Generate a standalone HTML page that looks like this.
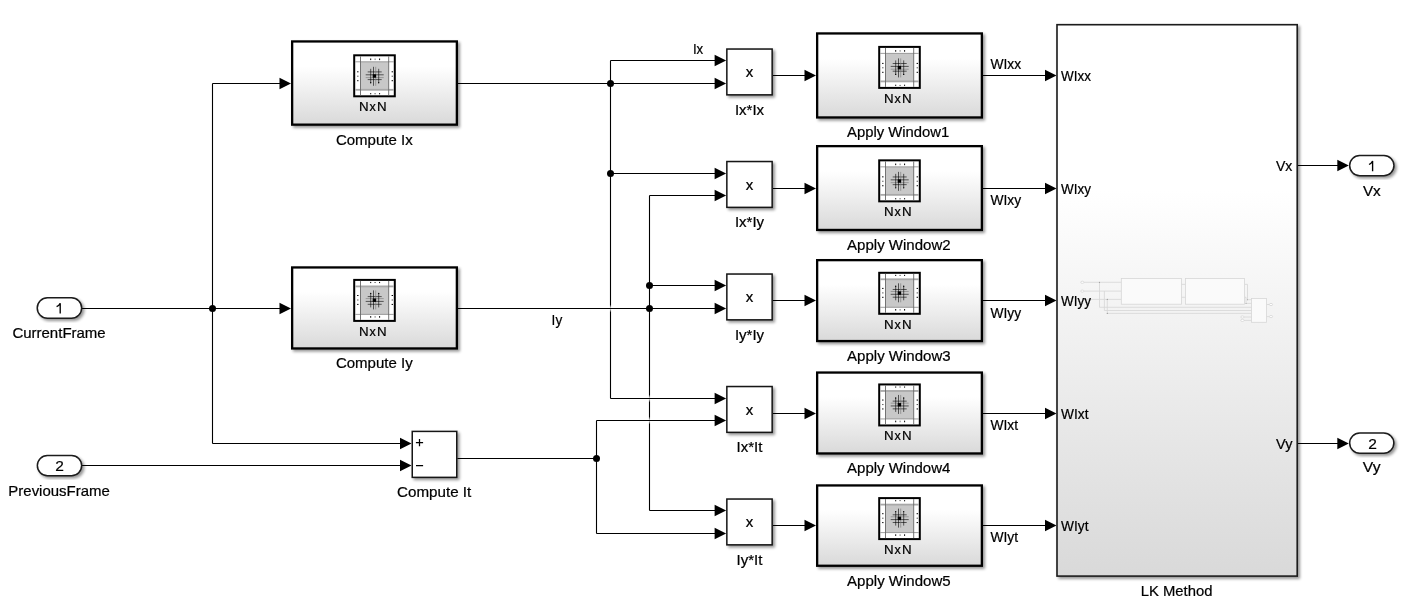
<!DOCTYPE html>
<html><head><meta charset="utf-8"><style>
html,body{margin:0;padding:0;background:#fff;width:1425px;height:616px;overflow:hidden}
svg{display:block;font-family:"Liberation Sans",sans-serif;will-change:transform}
</style></head><body>
<svg width="1425" height="616" viewBox="0 0 1425 616">
<defs>
<linearGradient id="grad" x1="0" y1="0" x2="0" y2="1"><stop offset="0" stop-color="#ffffff"/><stop offset="0.3" stop-color="#ffffff"/><stop offset="1" stop-color="#d9d9d9"/></linearGradient>
<filter id="sh" x="-10%" y="-10%" width="130%" height="130%"><feGaussianBlur in="SourceAlpha" stdDeviation="1.6"/><feOffset dx="2" dy="2.2" result="b"/><feComponentTransfer><feFuncA type="linear" slope="0.42"/></feComponentTransfer><feMerge><feMergeNode/><feMergeNode in="SourceGraphic"/></feMerge></filter>
<g id="nxn">
<rect x="1" y="1" width="40.6" height="41" fill="#fff" stroke="#000" stroke-width="2"/>
<rect x="7.3" y="7.5" width="28.2" height="28" fill="#c8c8c8"/>
<rect x="2" y="34.6" width="38.6" height="1.8" fill="#a8a8a8"/>
<line x1="2" y1="7.5" x2="40.6" y2="7.5" stroke="#888" stroke-width="0.8"/>
<line x1="7.3" y1="2" x2="7.3" y2="41" stroke="#666" stroke-width="0.9"/>
<line x1="35.5" y1="2" x2="35.5" y2="41" stroke="#666" stroke-width="0.9"/>
<g fill="#000">
<rect x="17" y="4.2" width="1" height="1.6"/><rect x="21.4" y="4.2" width="1" height="1.6" fill="#777"/><rect x="25.9" y="4.2" width="1" height="1.6"/>
<rect x="17" y="38.8" width="1" height="1.2"/><rect x="21.2" y="39" width="1.4" height="0.9" fill="#555"/><rect x="25.9" y="38.8" width="1" height="1.2"/>
<rect x="3.9" y="17" width="1.4" height="1"/><rect x="3.9" y="21.4" width="1.4" height="1" fill="#555"/><rect x="3.9" y="25.9" width="1.4" height="1"/>
<rect x="38.4" y="17" width="1.4" height="1"/><rect x="38.4" y="21.4" width="1.4" height="1" fill="#555"/><rect x="38.4" y="25.9" width="1.4" height="1"/>
</g>
<g stroke="#000" stroke-width="0.6">
<line x1="12.5" y1="20.5" x2="30.5" y2="20.5"/><line x1="12.5" y1="23.3" x2="30.5" y2="23.3" stroke="#777"/>
<line x1="14.5" y1="17.6" x2="28.5" y2="17.6"/><line x1="14.5" y1="25.3" x2="28.5" y2="25.3"/>
<line x1="20.3" y1="12.5" x2="20.3" y2="31.5"/><line x1="22.5" y1="12.5" x2="22.5" y2="31.5" stroke="#777"/>
<line x1="17.5" y1="14.5" x2="17.5" y2="28.5"/><line x1="25.5" y1="14.5" x2="25.5" y2="28.5"/>
</g>
<rect x="19.5" y="20" width="3.4" height="3.4" fill="#000"/>
<circle cx="17.5" cy="28.5" r="0.7" fill="#000"/><circle cx="25.5" cy="28.5" r="0.7" fill="#000"/>
</g>
<linearGradient id="gapg" x1="0" y1="0" x2="0" y2="1"><stop offset="0" stop-color="#fff" stop-opacity="0"/><stop offset="0.5" stop-color="#fff" stop-opacity="1"/><stop offset="1" stop-color="#fff" stop-opacity="0"/></linearGradient>
</defs>
<path d="M82.00,308.50 L212.50,308.50" fill="none" stroke="#000" stroke-width="1.1"/>
<path d="M212.50,308.50 L282.00,308.50" fill="none" stroke="#000" stroke-width="1.1"/>
<path d="M279.50,302.75 L291.00,308.50 L279.50,314.25 Z" fill="#000"/>
<path d="M212.50,83.50 L212.50,443.50" fill="none" stroke="#000" stroke-width="1.1"/>
<path d="M212.50,83.50 L282.00,83.50" fill="none" stroke="#000" stroke-width="1.1"/>
<path d="M279.50,77.75 L291.00,83.50 L279.50,89.25 Z" fill="#000"/>
<path d="M212.50,443.50 L402.50,443.50" fill="none" stroke="#000" stroke-width="1.1"/>
<path d="M400.00,437.75 L411.50,443.50 L400.00,449.25 Z" fill="#000"/>
<path d="M82.00,465.50 L402.50,465.50" fill="none" stroke="#000" stroke-width="1.1"/>
<path d="M400.00,459.75 L411.50,465.50 L400.00,471.25 Z" fill="#000"/>
<circle cx="212.5" cy="308.5" r="3.5" fill="#000"/>
<path d="M457.30,458.50 L596.50,458.50" fill="none" stroke="#000" stroke-width="1.1"/>
<path d="M596.50,420.50 L596.50,533.50" fill="none" stroke="#000" stroke-width="1.1"/>
<path d="M610.50,60.50 L610.50,398.50" fill="none" stroke="#000" stroke-width="1.1"/>
<path d="M649.50,195.50 L649.50,510.50" fill="none" stroke="#000" stroke-width="1.1"/>
<rect x="609.0" y="304.5" width="3" height="8" fill="url(#gapg)"/>
<rect x="648.0" y="394.5" width="3" height="8" fill="url(#gapg)"/>
<rect x="648.0" y="416.5" width="3" height="8" fill="url(#gapg)"/>
<path d="M458.00,83.50 L610.50,83.50" fill="none" stroke="#000" stroke-width="1.1"/>
<path d="M458.00,308.50 L649.50,308.50" fill="none" stroke="#000" stroke-width="1.1"/>
<path d="M610.50,60.50 L717.10,60.50" fill="none" stroke="#000" stroke-width="1.1"/>
<path d="M714.60,54.75 L726.10,60.50 L714.60,66.25 Z" fill="#000"/>
<path d="M610.50,83.50 L717.10,83.50" fill="none" stroke="#000" stroke-width="1.1"/>
<path d="M714.60,77.75 L726.10,83.50 L714.60,89.25 Z" fill="#000"/>
<path d="M610.50,173.50 L717.10,173.50" fill="none" stroke="#000" stroke-width="1.1"/>
<path d="M714.60,167.75 L726.10,173.50 L714.60,179.25 Z" fill="#000"/>
<path d="M649.50,195.50 L717.10,195.50" fill="none" stroke="#000" stroke-width="1.1"/>
<path d="M714.60,189.75 L726.10,195.50 L714.60,201.25 Z" fill="#000"/>
<path d="M649.50,285.50 L717.10,285.50" fill="none" stroke="#000" stroke-width="1.1"/>
<path d="M714.60,279.75 L726.10,285.50 L714.60,291.25 Z" fill="#000"/>
<path d="M649.50,308.50 L717.10,308.50" fill="none" stroke="#000" stroke-width="1.1"/>
<path d="M714.60,302.75 L726.10,308.50 L714.60,314.25 Z" fill="#000"/>
<path d="M610.50,398.50 L717.10,398.50" fill="none" stroke="#000" stroke-width="1.1"/>
<path d="M714.60,392.75 L726.10,398.50 L714.60,404.25 Z" fill="#000"/>
<path d="M596.50,420.50 L717.10,420.50" fill="none" stroke="#000" stroke-width="1.1"/>
<path d="M714.60,414.75 L726.10,420.50 L714.60,426.25 Z" fill="#000"/>
<path d="M649.50,510.50 L717.10,510.50" fill="none" stroke="#000" stroke-width="1.1"/>
<path d="M714.60,504.75 L726.10,510.50 L714.60,516.25 Z" fill="#000"/>
<path d="M596.50,533.50 L717.10,533.50" fill="none" stroke="#000" stroke-width="1.1"/>
<path d="M714.60,527.75 L726.10,533.50 L714.60,539.25 Z" fill="#000"/>
<circle cx="596.5" cy="458.5" r="3.5" fill="#000"/>
<circle cx="610.5" cy="83.5" r="3.5" fill="#000"/>
<circle cx="610.5" cy="173.5" r="3.5" fill="#000"/>
<circle cx="649.5" cy="308.5" r="3.5" fill="#000"/>
<circle cx="649.5" cy="285.5" r="3.5" fill="#000"/>
<path d="M772.90,75.50 L807.00,75.50" fill="none" stroke="#000" stroke-width="1.1"/>
<path d="M804.50,69.75 L816.00,75.50 L804.50,81.25 Z" fill="#000"/>
<path d="M983.00,75.50 L1047.50,75.50" fill="none" stroke="#000" stroke-width="1.1"/>
<path d="M1045.00,69.75 L1056.50,75.50 L1045.00,81.25 Z" fill="#000"/>
<path d="M772.90,188.50 L807.00,188.50" fill="none" stroke="#000" stroke-width="1.1"/>
<path d="M804.50,182.75 L816.00,188.50 L804.50,194.25 Z" fill="#000"/>
<path d="M983.00,188.50 L1047.50,188.50" fill="none" stroke="#000" stroke-width="1.1"/>
<path d="M1045.00,182.75 L1056.50,188.50 L1045.00,194.25 Z" fill="#000"/>
<path d="M772.90,300.50 L807.00,300.50" fill="none" stroke="#000" stroke-width="1.1"/>
<path d="M804.50,294.75 L816.00,300.50 L804.50,306.25 Z" fill="#000"/>
<path d="M983.00,300.50 L1047.50,300.50" fill="none" stroke="#000" stroke-width="1.1"/>
<path d="M1045.00,294.75 L1056.50,300.50 L1045.00,306.25 Z" fill="#000"/>
<path d="M772.90,413.50 L807.00,413.50" fill="none" stroke="#000" stroke-width="1.1"/>
<path d="M804.50,407.75 L816.00,413.50 L804.50,419.25 Z" fill="#000"/>
<path d="M983.00,413.50 L1047.50,413.50" fill="none" stroke="#000" stroke-width="1.1"/>
<path d="M1045.00,407.75 L1056.50,413.50 L1045.00,419.25 Z" fill="#000"/>
<path d="M772.90,525.50 L807.00,525.50" fill="none" stroke="#000" stroke-width="1.1"/>
<path d="M804.50,519.75 L816.00,525.50 L804.50,531.25 Z" fill="#000"/>
<path d="M983.00,525.50 L1047.50,525.50" fill="none" stroke="#000" stroke-width="1.1"/>
<path d="M1045.00,519.75 L1056.50,525.50 L1045.00,531.25 Z" fill="#000"/>
<path d="M1298.00,165.50 L1339.80,165.50" fill="none" stroke="#000" stroke-width="1.1"/>
<path d="M1337.30,159.75 L1348.80,165.50 L1337.30,171.25 Z" fill="#000"/>
<path d="M1298.00,443.50 L1339.80,443.50" fill="none" stroke="#000" stroke-width="1.1"/>
<path d="M1337.30,437.75 L1348.80,443.50 L1337.30,449.25 Z" fill="#000"/>
<rect x="292.15" y="41.45" width="164.70" height="83.20" fill="url(#grad)" stroke="#000" stroke-width="2.3" filter="url(#sh)"/>
<use href="#nxn" transform="translate(353.20,54.30)"/>
<text x="363.70" y="111.10" text-anchor="middle" font-size="13.3" fill="#000" stroke="#000" stroke-width="0.22">N</text>
<text x="372.55" y="111.10" text-anchor="middle" font-size="12.5" fill="#000" stroke="#000" stroke-width="0.22">x</text>
<text x="381.70" y="111.10" text-anchor="middle" font-size="13.3" fill="#000" stroke="#000" stroke-width="0.22">N</text>
<text x="335.90" y="145.00" text-anchor="start" font-size="15" fill="#000" stroke="#000" stroke-width="0.22" textLength="76.79999999999997" lengthAdjust="spacingAndGlyphs">Compute Ix</text>
<rect x="292.15" y="267.45" width="164.70" height="81.00" fill="url(#grad)" stroke="#000" stroke-width="2.3" filter="url(#sh)"/>
<use href="#nxn" transform="translate(353.20,321.90) scale(1,-1)"/>
<text x="363.70" y="335.70" text-anchor="middle" font-size="13.3" fill="#000" stroke="#000" stroke-width="0.22">N</text>
<text x="372.55" y="335.70" text-anchor="middle" font-size="12.5" fill="#000" stroke="#000" stroke-width="0.22">x</text>
<text x="381.70" y="335.70" text-anchor="middle" font-size="13.3" fill="#000" stroke="#000" stroke-width="0.22">N</text>
<text x="335.90" y="367.80" text-anchor="start" font-size="15" fill="#000" stroke="#000" stroke-width="0.22" textLength="76.79999999999997" lengthAdjust="spacingAndGlyphs">Compute Iy</text>
<rect x="412.25" y="431.4" width="44.5" height="45.95" fill="#fff" stroke="#151515" stroke-width="1.5" filter="url(#sh)"/>
<path d="M415.9,442.6 H423.1 M419.5,439 V446.2 M416,465.5 H423.1" stroke="#000" stroke-width="1.25" fill="none"/>
<text x="397.10" y="497.00" text-anchor="start" font-size="15" fill="#000" stroke="#000" stroke-width="0.22" textLength="74.2" lengthAdjust="spacingAndGlyphs">Compute It</text>
<rect x="726.85" y="49.05" width="45.30" height="45.80" fill="#fff" stroke="#151515" stroke-width="1.5" filter="url(#sh)"/>
<text x="749.50" y="77.00" text-anchor="middle" font-size="15" fill="#000" stroke="#000" stroke-width="0.22">x</text>
<text x="749.50" y="114.90" text-anchor="middle" font-size="15" fill="#000" stroke="#000" stroke-width="0.22">Ix*Ix</text>
<rect x="817.15" y="33.45" width="164.70" height="84.00" fill="url(#grad)" stroke="#000" stroke-width="2.3" filter="url(#sh)"/>
<use href="#nxn" transform="translate(878.20,45.90)"/>
<text x="888.70" y="102.70" text-anchor="middle" font-size="13.3" fill="#000" stroke="#000" stroke-width="0.22">N</text>
<text x="897.55" y="102.70" text-anchor="middle" font-size="12.5" fill="#000" stroke="#000" stroke-width="0.22">x</text>
<text x="906.70" y="102.70" text-anchor="middle" font-size="13.3" fill="#000" stroke="#000" stroke-width="0.22">N</text>
<text x="847.10" y="136.90" text-anchor="start" font-size="15" fill="#000" stroke="#000" stroke-width="0.22" textLength="102.2" lengthAdjust="spacingAndGlyphs">Apply Window1</text>
<rect x="726.85" y="161.55" width="45.30" height="45.80" fill="#fff" stroke="#151515" stroke-width="1.5" filter="url(#sh)"/>
<text x="749.50" y="189.50" text-anchor="middle" font-size="15" fill="#000" stroke="#000" stroke-width="0.22">x</text>
<text x="749.50" y="227.40" text-anchor="middle" font-size="15" fill="#000" stroke="#000" stroke-width="0.22">Ix*Iy</text>
<rect x="817.15" y="146.15" width="164.70" height="83.80" fill="url(#grad)" stroke="#000" stroke-width="2.3" filter="url(#sh)"/>
<use href="#nxn" transform="translate(878.20,159.35)"/>
<text x="888.70" y="216.15" text-anchor="middle" font-size="13.3" fill="#000" stroke="#000" stroke-width="0.22">N</text>
<text x="897.55" y="216.15" text-anchor="middle" font-size="12.5" fill="#000" stroke="#000" stroke-width="0.22">x</text>
<text x="906.70" y="216.15" text-anchor="middle" font-size="13.3" fill="#000" stroke="#000" stroke-width="0.22">N</text>
<text x="847.10" y="249.90" text-anchor="start" font-size="15" fill="#000" stroke="#000" stroke-width="0.22" textLength="103.49999999999996" lengthAdjust="spacingAndGlyphs">Apply Window2</text>
<rect x="726.85" y="274.05" width="45.30" height="45.80" fill="#fff" stroke="#151515" stroke-width="1.5" filter="url(#sh)"/>
<text x="749.50" y="302.00" text-anchor="middle" font-size="15" fill="#000" stroke="#000" stroke-width="0.22">x</text>
<text x="749.50" y="339.90" text-anchor="middle" font-size="15" fill="#000" stroke="#000" stroke-width="0.22">Iy*Iy</text>
<rect x="817.15" y="260.15" width="164.70" height="80.90" fill="url(#grad)" stroke="#000" stroke-width="2.3" filter="url(#sh)"/>
<use href="#nxn" transform="translate(878.20,314.80) scale(1,-1)"/>
<text x="888.70" y="328.60" text-anchor="middle" font-size="13.3" fill="#000" stroke="#000" stroke-width="0.22">N</text>
<text x="897.55" y="328.60" text-anchor="middle" font-size="12.5" fill="#000" stroke="#000" stroke-width="0.22">x</text>
<text x="906.70" y="328.60" text-anchor="middle" font-size="13.3" fill="#000" stroke="#000" stroke-width="0.22">N</text>
<text x="847.10" y="360.90" text-anchor="start" font-size="15" fill="#000" stroke="#000" stroke-width="0.22" textLength="103.49999999999996" lengthAdjust="spacingAndGlyphs">Apply Window3</text>
<rect x="726.85" y="386.55" width="45.30" height="45.80" fill="#fff" stroke="#151515" stroke-width="1.5" filter="url(#sh)"/>
<text x="749.50" y="414.50" text-anchor="middle" font-size="15" fill="#000" stroke="#000" stroke-width="0.22">x</text>
<text x="749.50" y="452.40" text-anchor="middle" font-size="15" fill="#000" stroke="#000" stroke-width="0.22">Ix*It</text>
<rect x="817.15" y="372.55" width="164.70" height="80.90" fill="url(#grad)" stroke="#000" stroke-width="2.3" filter="url(#sh)"/>
<use href="#nxn" transform="translate(878.20,426.45) scale(1,-1)"/>
<text x="888.70" y="440.25" text-anchor="middle" font-size="13.3" fill="#000" stroke="#000" stroke-width="0.22">N</text>
<text x="897.55" y="440.25" text-anchor="middle" font-size="12.5" fill="#000" stroke="#000" stroke-width="0.22">x</text>
<text x="906.70" y="440.25" text-anchor="middle" font-size="13.3" fill="#000" stroke="#000" stroke-width="0.22">N</text>
<text x="847.10" y="472.90" text-anchor="start" font-size="15" fill="#000" stroke="#000" stroke-width="0.22" textLength="103.2" lengthAdjust="spacingAndGlyphs">Apply Window4</text>
<rect x="726.85" y="499.05" width="45.30" height="45.80" fill="#fff" stroke="#151515" stroke-width="1.5" filter="url(#sh)"/>
<text x="749.50" y="527.00" text-anchor="middle" font-size="15" fill="#000" stroke="#000" stroke-width="0.22">x</text>
<text x="749.50" y="564.90" text-anchor="middle" font-size="15" fill="#000" stroke="#000" stroke-width="0.22">Iy*It</text>
<rect x="817.15" y="485.45" width="164.70" height="80.30" fill="url(#grad)" stroke="#000" stroke-width="2.3" filter="url(#sh)"/>
<use href="#nxn" transform="translate(878.20,540.10) scale(1,-1)"/>
<text x="888.70" y="553.90" text-anchor="middle" font-size="13.3" fill="#000" stroke="#000" stroke-width="0.22">N</text>
<text x="897.55" y="553.90" text-anchor="middle" font-size="12.5" fill="#000" stroke="#000" stroke-width="0.22">x</text>
<text x="906.70" y="553.90" text-anchor="middle" font-size="13.3" fill="#000" stroke="#000" stroke-width="0.22">N</text>
<text x="847.10" y="585.70" text-anchor="start" font-size="15" fill="#000" stroke="#000" stroke-width="0.22" textLength="103.49999999999996" lengthAdjust="spacingAndGlyphs">Apply Window5</text>
<rect x="1057" y="24.7" width="240.2" height="551.4" fill="url(#grad)" stroke="#1a1a1a" stroke-width="1.6" filter="url(#sh)"/>
<text x="1140.70" y="596.10" text-anchor="start" font-size="15" fill="#000" stroke="#000" stroke-width="0.22" textLength="71.7" lengthAdjust="spacingAndGlyphs">LK Method</text>
<g fill="none" stroke="#d6d6d6" stroke-width="0.8">
<path d="M1084,282.3 H1121.3 M1084,291.1 H1121.3 M1084,299.4 H1121.3"/>
<path d="M1099.5,282.3 V307.3 H1251.6 M1104.4,291.1 V310.5 H1251.6 M1107.3,299.4 V313.4 H1251.6"/>
<path d="M1181.4,284.4 H1185.4 M1181.4,297.3 H1185.4"/>
<path d="M1244.5,284.4 H1247.5 V299.7 H1251.6 M1244.5,297.3 H1246 V303.4 H1251.6"/>
<path d="M1244,317 H1251.6 M1244,320.4 H1251.6 M1266.6,304.5 H1269.5 M1266.6,316.6 H1269.5"/>
<rect x="1121.3" y="278.4" width="60.1" height="25.8" fill="#fafafa"/>
<rect x="1185.4" y="278.4" width="59.1" height="25.8" fill="#fafafa"/>
<rect x="1251.6" y="298.4" width="15" height="23.9" fill="#fafafa"/>
<ellipse cx="1082.3" cy="282.3" rx="1.6" ry="1.1" fill="#fff"/>
<ellipse cx="1082.3" cy="291.1" rx="1.6" ry="1.1" fill="#fff"/>
<ellipse cx="1271" cy="304.5" rx="1.6" ry="1.1" fill="#fff"/>
<ellipse cx="1271" cy="316.6" rx="1.6" ry="1.1" fill="#fff"/>
<ellipse cx="1242.4" cy="317" rx="1.6" ry="1.1" fill="#fff"/>
<ellipse cx="1242.4" cy="320.4" rx="1.6" ry="1.1" fill="#fff"/>
</g>
<g fill="#999"><circle cx="1099.5" cy="282.3" r="0.6"/><circle cx="1107.3" cy="299.4" r="0.6"/><circle cx="1107.3" cy="313.4" r="0.6"/><circle cx="1247.5" cy="299.7" r="0.5"/><circle cx="1246" cy="303.4" r="0.5"/></g>
<text x="1061.10" y="80.70" text-anchor="start" font-size="15" fill="#000" stroke="#000" stroke-width="0.22" textLength="29.900000000000045" lengthAdjust="spacingAndGlyphs">WIxx</text>
<text x="1061.10" y="193.50" text-anchor="start" font-size="15" fill="#000" stroke="#000" stroke-width="0.22" textLength="29.900000000000045" lengthAdjust="spacingAndGlyphs">WIxy</text>
<text x="1061.10" y="305.80" text-anchor="start" font-size="15" fill="#000" stroke="#000" stroke-width="0.22" textLength="29.900000000000045" lengthAdjust="spacingAndGlyphs">WIyy</text>
<text x="1061.10" y="418.50" text-anchor="start" font-size="15" fill="#000" stroke="#000" stroke-width="0.22" textLength="27.400000000000045" lengthAdjust="spacingAndGlyphs">WIxt</text>
<text x="1061.10" y="530.50" text-anchor="start" font-size="15" fill="#000" stroke="#000" stroke-width="0.22" textLength="27.400000000000045" lengthAdjust="spacingAndGlyphs">WIyt</text>
<text x="1276.00" y="170.70" text-anchor="start" font-size="15" fill="#000" stroke="#000" stroke-width="0.22" textLength="16.399999999999817" lengthAdjust="spacingAndGlyphs">Vx</text>
<text x="1276.00" y="448.90" text-anchor="start" font-size="15" fill="#000" stroke="#000" stroke-width="0.22" textLength="16.399999999999817" lengthAdjust="spacingAndGlyphs">Vy</text>
<text x="990.40" y="68.90" text-anchor="start" font-size="15" fill="#000" stroke="#000" stroke-width="0.22" textLength="30.7" lengthAdjust="spacingAndGlyphs">WIxx</text>
<text x="990.40" y="204.80" text-anchor="start" font-size="15" fill="#000" stroke="#000" stroke-width="0.22" textLength="30.7" lengthAdjust="spacingAndGlyphs">WIxy</text>
<text x="990.40" y="317.80" text-anchor="start" font-size="15" fill="#000" stroke="#000" stroke-width="0.22" textLength="30.7" lengthAdjust="spacingAndGlyphs">WIyy</text>
<text x="990.40" y="429.80" text-anchor="start" font-size="15" fill="#000" stroke="#000" stroke-width="0.22" textLength="27.7" lengthAdjust="spacingAndGlyphs">WIxt</text>
<text x="990.40" y="542.30" text-anchor="start" font-size="15" fill="#000" stroke="#000" stroke-width="0.22" textLength="27.7" lengthAdjust="spacingAndGlyphs">WIyt</text>
<text x="692.90" y="53.90" text-anchor="start" font-size="15" fill="#000" stroke="#000" stroke-width="0.22" textLength="10.300000000000022" lengthAdjust="spacingAndGlyphs">Ix</text>
<text x="551.60" y="324.70" text-anchor="start" font-size="15" fill="#000" stroke="#000" stroke-width="0.22" textLength="10.599999999999977" lengthAdjust="spacingAndGlyphs">Iy</text>
<rect x="37.25" y="297.75" width="44.40" height="20.50" rx="10.25" fill="#fff" stroke="#1a1a1a" stroke-width="1.5" filter="url(#sh)"/>
<path d="M56.60,306.70 Q59.00,305.60 60.20,303.20 V313.40" fill="none" stroke="#000" stroke-width="1.35"/>
<text x="12.40" y="337.80" text-anchor="start" font-size="15" fill="#000" stroke="#000" stroke-width="0.22" textLength="93.30000000000001" lengthAdjust="spacingAndGlyphs">CurrentFrame</text>
<rect x="37.35" y="455.55" width="44.30" height="20.10" rx="10.05" fill="#fff" stroke="#1a1a1a" stroke-width="1.5" filter="url(#sh)"/>
<text x="59.50" y="471.40" text-anchor="middle" font-size="15.5" fill="#000" stroke="#000" stroke-width="0.22">2</text>
<text x="8.35" y="495.75" text-anchor="start" font-size="15" fill="#000" stroke="#000" stroke-width="0.22" textLength="101.45" lengthAdjust="spacingAndGlyphs">PreviousFrame</text>
<rect x="1349.65" y="155.55" width="44.30" height="20.10" rx="10.05" fill="#fff" stroke="#1a1a1a" stroke-width="1.5" filter="url(#sh)"/>
<path d="M1369.00,164.50 Q1371.40,163.40 1372.60,161.00 V171.20" fill="none" stroke="#000" stroke-width="1.35"/>
<text x="1362.90" y="195.60" text-anchor="start" font-size="15" fill="#000" stroke="#000" stroke-width="0.22" textLength="17.900000000000045" lengthAdjust="spacingAndGlyphs">Vx</text>
<rect x="1349.65" y="432.95" width="44.20" height="20.30" rx="10.15" fill="#fff" stroke="#1a1a1a" stroke-width="1.5" filter="url(#sh)"/>
<text x="1372.65" y="448.80" text-anchor="middle" font-size="15.5" fill="#000" stroke="#000" stroke-width="0.22">2</text>
<text x="1362.80" y="472.30" text-anchor="start" font-size="15" fill="#000" stroke="#000" stroke-width="0.22" textLength="17.7" lengthAdjust="spacingAndGlyphs">Vy</text>
</svg></body></html>
